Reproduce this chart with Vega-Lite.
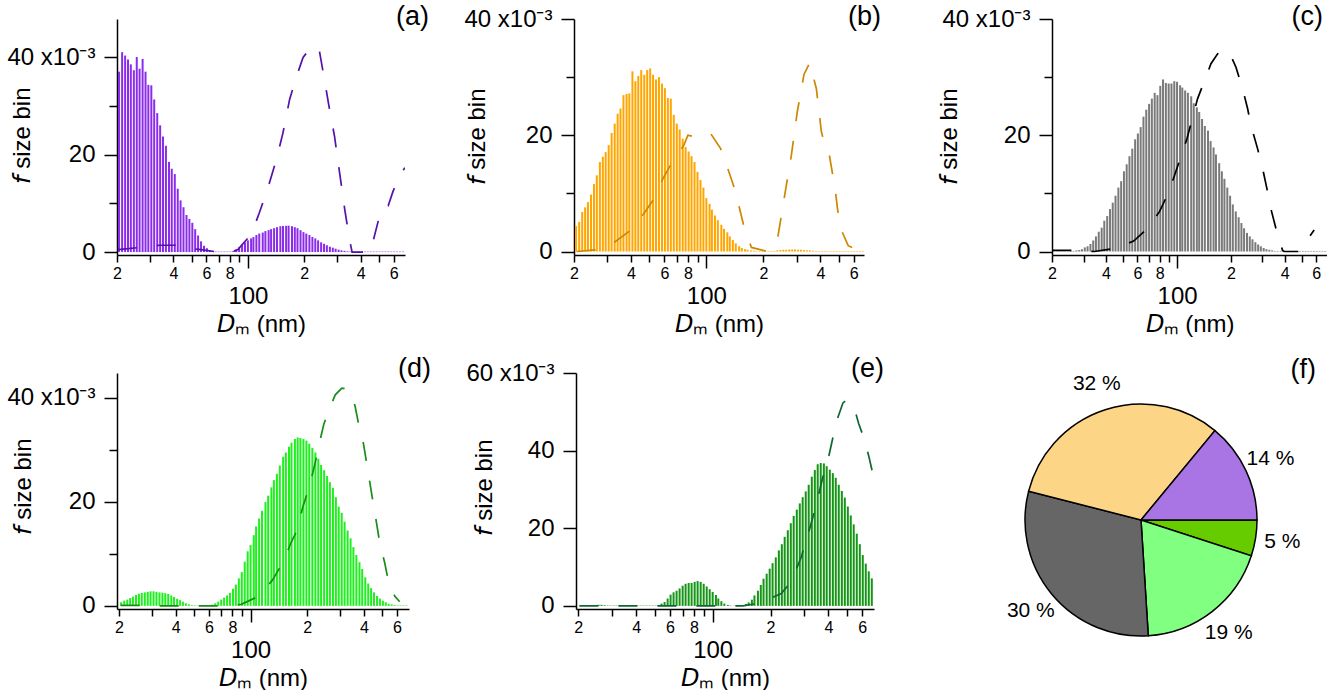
{
  "$schema": "https://vega.github.io/schema/vega-lite/v6.json",
  "padding": {"left": 6, "top": 3, "right": 0, "bottom": 0},
  "background": "white",
  "config": {
    "view": {"stroke": null},
    "font": "Liberation Sans",
    "axis": {"grid": false, "domainColor": "black", "domainWidth": 1.5, "tickColor": "black", "tickWidth": 1.5, "labelColor": "black", "titleColor": "black", "labelFont": "Liberation Sans", "titleFont": "Liberation Sans", "titleFontWeight": "normal", "labelOverlap": false, "labelFlush": false, "labelBound": false},
    "title": {"anchor": "end", "frame": "group", "fontSize": 27, "fontWeight": "normal", "font": "Liberation Sans", "baseline": "alphabetic", "offset": 0, "color": "black"}
  },
  "datasets": {
    "a_bins": [{"D":20.5,"f":37.0},{"D":21.3,"f":41.0},{"D":22.1,"f":40.3},{"D":22.9,"f":39.5},{"D":23.7,"f":38.5},{"D":24.6,"f":37.3},{"D":25.5,"f":40.0},{"D":26.4,"f":37.6},{"D":27.4,"f":39.6},{"D":28.4,"f":37.0},{"D":29.4,"f":34.3},{"D":30.5,"f":34.2},{"D":31.6,"f":31.3},{"D":32.8,"f":28.5},{"D":34.0,"f":26.0},{"D":35.2,"f":23.7},{"D":36.5,"f":21.8},{"D":37.9,"f":18.5},{"D":39.2,"f":17.1},{"D":40.7,"f":16.0},{"D":42.2,"f":13.0},{"D":43.7,"f":10.6},{"D":45.3,"f":9.2},{"D":47.0,"f":7.6},{"D":48.7,"f":6.8},{"D":50.5,"f":6.0},{"D":52.3,"f":4.7},{"D":54.2,"f":3.4},{"D":56.2,"f":2.2},{"D":58.3,"f":1.3},{"D":60.4,"f":0.8},{"D":62.6,"f":0.4},{"D":64.9,"f":0.2},{"D":67.3,"f":0.1},{"D":69.8,"f":0.1},{"D":72.3,"f":0.1},{"D":75.0,"f":0.1},{"D":77.7,"f":0.1},{"D":80.6,"f":0.1},{"D":83.5,"f":0.2},{"D":86.6,"f":0.5},{"D":89.8,"f":1.0},{"D":93.1,"f":1.6},{"D":96.5,"f":2.0},{"D":100,"f":2.4},{"D":104,"f":2.8},{"D":107,"f":3.1},{"D":111,"f":3.5},{"D":115,"f":3.8},{"D":120,"f":4.0},{"D":124,"f":4.3},{"D":129,"f":4.5},{"D":133,"f":4.7},{"D":138,"f":4.9},{"D":143,"f":5.1},{"D":149,"f":5.3},{"D":154,"f":5.35},{"D":160,"f":5.4},{"D":165,"f":5.4},{"D":172,"f":5.3},{"D":178,"f":5.1},{"D":184,"f":4.9},{"D":191,"f":4.5},{"D":198,"f":4.1},{"D":205,"f":3.8},{"D":213,"f":3.5},{"D":221,"f":3.1},{"D":229,"f":2.8},{"D":237,"f":2.4},{"D":246,"f":2.0},{"D":255,"f":1.7},{"D":264,"f":1.4},{"D":274,"f":1.1},{"D":284,"f":0.9},{"D":294,"f":0.7},{"D":305,"f":0.5},{"D":316,"f":0.35},{"D":328,"f":0.25},{"D":340,"f":0.15},{"D":352,"f":0.1},{"D":365,"f":0.1},{"D":379,"f":0.1},{"D":392,"f":0.1},{"D":407,"f":0.1},{"D":422,"f":0.1},{"D":437,"f":0.1},{"D":453,"f":0.1},{"D":470,"f":0.1},{"D":487,"f":0.1},{"D":505,"f":0.1},{"D":523,"f":0.1},{"D":542,"f":0.1},{"D":562,"f":0.1},{"D":583,"f":0.1},{"D":604,"f":0.1},{"D":626,"f":0.1},{"D":649,"f":0.1},{"D":673,"f":0.1}],
    "a_fit": [{"D":20.25,"f":0.5},{"D":25.8,"f":0.9},{"D":33.7,"f":1.4},{"D":43.1,"f":1.4},{"D":47.8,"f":0.8},{"D":56.2,"f":0.5},{"D":69.1,"f":0},{"D":81.4,"f":0},{"D":88.4,"f":0.5},{"D":104,"f":3.6},{"D":115,"f":8.0},{"D":128,"f":13.2},{"D":142,"f":19.0},{"D":154,"f":24.5},{"D":167,"f":31.3},{"D":181,"f":35.8},{"D":197,"f":39.9},{"D":213,"f":41.6},{"D":232,"f":42.3},{"D":241,"f":41.2},{"D":257,"f":35.1},{"D":273,"f":29.2},{"D":290,"f":23.8},{"D":309,"f":16.2},{"D":329,"f":8.7},{"D":349,"f":2.5},{"D":360,"f":0},{"D":447,"f":0},{"D":466,"f":2.2},{"D":496,"f":6.3},{"D":516,"f":9.0},{"D":561,"f":9.5},{"D":596,"f":12.5},{"D":647,"f":15.5},{"D":688,"f":17.3}],
    "b_bins": [{"D":20.5,"f":4.4},{"D":21.3,"f":5.1},{"D":22.1,"f":6.8},{"D":22.9,"f":7.6},{"D":23.7,"f":8.5},{"D":24.6,"f":9.8},{"D":25.5,"f":11.6},{"D":26.4,"f":13.1},{"D":27.4,"f":15.4},{"D":28.4,"f":16.3},{"D":29.4,"f":17.1},{"D":30.5,"f":18.3},{"D":31.6,"f":20.4},{"D":32.8,"f":22.0},{"D":34.0,"f":23.7},{"D":35.2,"f":24.6},{"D":36.5,"f":26.9},{"D":37.9,"f":27.1},{"D":39.2,"f":27.2},{"D":40.7,"f":31.0},{"D":42.2,"f":29.3},{"D":43.7,"f":30.2},{"D":45.3,"f":31.2},{"D":47.0,"f":30.4},{"D":48.7,"f":31.2},{"D":50.5,"f":31.5},{"D":52.3,"f":30.4},{"D":54.2,"f":29.6},{"D":56.2,"f":30.0},{"D":58.3,"f":28.9},{"D":60.4,"f":28.1},{"D":62.6,"f":26.4},{"D":64.9,"f":26.3},{"D":67.3,"f":23.5},{"D":69.8,"f":22.0},{"D":72.3,"f":21.0},{"D":75.0,"f":19.4},{"D":77.7,"f":18.0},{"D":80.6,"f":17.2},{"D":83.5,"f":16.4},{"D":86.6,"f":15.4},{"D":89.8,"f":13.7},{"D":93.1,"f":12.3},{"D":96.5,"f":11.0},{"D":100,"f":9.2},{"D":104,"f":8.2},{"D":107,"f":7.2},{"D":111,"f":6.2},{"D":115,"f":5.4},{"D":120,"f":4.6},{"D":124,"f":3.9},{"D":129,"f":3.3},{"D":133,"f":2.6},{"D":138,"f":2.0},{"D":143,"f":1.4},{"D":149,"f":0.9},{"D":154,"f":0.6},{"D":160,"f":0.4},{"D":165,"f":0.3},{"D":172,"f":0.2},{"D":178,"f":0.15},{"D":184,"f":0.1},{"D":191,"f":0.1},{"D":198,"f":0.1},{"D":205,"f":0.1},{"D":213,"f":0.1},{"D":221,"f":0.1},{"D":229,"f":0.1},{"D":237,"f":0.2},{"D":246,"f":0.25},{"D":255,"f":0.3},{"D":264,"f":0.3},{"D":274,"f":0.35},{"D":284,"f":0.35},{"D":294,"f":0.35},{"D":305,"f":0.3},{"D":316,"f":0.3},{"D":328,"f":0.25},{"D":340,"f":0.2},{"D":352,"f":0.2},{"D":365,"f":0.15},{"D":379,"f":0.1},{"D":392,"f":0.1},{"D":407,"f":0.1},{"D":422,"f":0.1},{"D":437,"f":0.1},{"D":453,"f":0.1},{"D":470,"f":0.1},{"D":487,"f":0.1},{"D":505,"f":0.1},{"D":523,"f":0.1},{"D":542,"f":0.1},{"D":562,"f":0.1},{"D":583,"f":0.1},{"D":604,"f":0.1},{"D":626,"f":0.1},{"D":649,"f":0.1},{"D":673,"f":0.1}],
    "b_fit": [{"D":20.66,"f":0},{"D":26.1,"f":0.3},{"D":32.7,"f":1.6},{"D":40.0,"f":3.7},{"D":46.7,"f":6.5},{"D":53.2,"f":9.2},{"D":58.9,"f":12.5},{"D":66.0,"f":15.4},{"D":76.1,"f":18.3},{"D":79.9,"f":20.0},{"D":87.4,"f":19.7},{"D":105.3,"f":20.3},{"D":119,"f":17.7},{"D":130,"f":14.2},{"D":141,"f":10.8},{"D":150,"f":7.3},{"D":159,"f":3.9},{"D":173,"f":0.7},{"D":212,"f":0},{"D":239,"f":2.7},{"D":249,"f":6.2},{"D":259,"f":9.6},{"D":281,"f":16.5},{"D":302,"f":24.0},{"D":328,"f":30.5},{"D":352,"f":32.5},{"D":381,"f":28.0},{"D":405,"f":20.6},{"D":414,"f":19.4},{"D":440,"f":17.7},{"D":462,"f":13.7},{"D":481,"f":10.2},{"D":493,"f":7.3},{"D":513,"f":3.9},{"D":561,"f":1.0},{"D":660,"f":0}],
    "c_bins": [{"D":20.5,"f":0.05},{"D":21.3,"f":0.05},{"D":22.1,"f":0.05},{"D":22.9,"f":0.05},{"D":23.7,"f":0.05},{"D":24.6,"f":0.05},{"D":25.5,"f":0.1},{"D":26.4,"f":0.1},{"D":27.4,"f":0.2},{"D":28.4,"f":0.25},{"D":29.4,"f":0.4},{"D":30.5,"f":0.7},{"D":31.6,"f":0.9},{"D":32.8,"f":1.3},{"D":34.0,"f":1.9},{"D":35.2,"f":2.6},{"D":36.5,"f":3.4},{"D":37.9,"f":4.1},{"D":39.2,"f":5.3},{"D":40.7,"f":6.1},{"D":42.2,"f":7.3},{"D":43.7,"f":8.4},{"D":45.3,"f":9.6},{"D":47.0,"f":11.0},{"D":48.7,"f":12.1},{"D":50.5,"f":13.8},{"D":52.3,"f":15.0},{"D":54.2,"f":16.4},{"D":56.2,"f":17.7},{"D":58.3,"f":19.3},{"D":60.4,"f":20.3},{"D":62.6,"f":21.4},{"D":64.9,"f":23.2},{"D":67.3,"f":24.4},{"D":69.8,"f":25.4},{"D":72.3,"f":26.3},{"D":75.0,"f":27.3},{"D":77.7,"f":26.9},{"D":80.6,"f":28.5},{"D":83.5,"f":29.6},{"D":86.6,"f":29.0},{"D":89.8,"f":28.9},{"D":93.1,"f":28.9},{"D":96.5,"f":29.3},{"D":100,"f":29.2},{"D":104,"f":28.6},{"D":107,"f":28.2},{"D":111,"f":27.7},{"D":115,"f":27.3},{"D":120,"f":26.7},{"D":124,"f":25.5},{"D":129,"f":24.8},{"D":133,"f":24.0},{"D":138,"f":22.8},{"D":143,"f":21.6},{"D":149,"f":20.8},{"D":154,"f":19.0},{"D":160,"f":17.9},{"D":165,"f":16.7},{"D":172,"f":15.2},{"D":178,"f":13.8},{"D":184,"f":12.5},{"D":191,"f":11.0},{"D":198,"f":9.6},{"D":205,"f":8.1},{"D":213,"f":6.9},{"D":221,"f":5.9},{"D":229,"f":4.9},{"D":237,"f":4.0},{"D":246,"f":3.2},{"D":255,"f":2.6},{"D":264,"f":2.1},{"D":274,"f":1.6},{"D":284,"f":1.2},{"D":294,"f":0.9},{"D":305,"f":0.6},{"D":316,"f":0.4},{"D":328,"f":0.3},{"D":340,"f":0.2},{"D":352,"f":0.1},{"D":365,"f":0.1},{"D":379,"f":0.1},{"D":392,"f":0.1},{"D":407,"f":0.1},{"D":422,"f":0.1},{"D":437,"f":0.1},{"D":453,"f":0.1},{"D":470,"f":0.1},{"D":487,"f":0.1},{"D":505,"f":0.1},{"D":523,"f":0.1},{"D":542,"f":0.1},{"D":562,"f":0.1},{"D":583,"f":0.1},{"D":604,"f":0.1},{"D":626,"f":0.1},{"D":649,"f":0.1},{"D":673,"f":0.1}],
    "c_fit": [{"D":20.1,"f":0.2},{"D":26.4,"f":0.2},{"D":34.5,"f":0},{"D":44.6,"f":0.5},{"D":57.2,"f":1.8},{"D":68.5,"f":4.0},{"D":79.9,"f":6.9},{"D":87.0,"f":9.3},{"D":95.6,"f":12.6},{"D":104.2,"f":16.0},{"D":113.6,"f":19.4},{"D":122.2,"f":23.1},{"D":130.3,"f":26.3},{"D":145.0,"f":30.0},{"D":154.7,"f":32.3},{"D":168.6,"f":34.0},{"D":183.6,"f":34.7},{"D":195.8,"f":34.3},{"D":213.5,"f":31.7},{"D":232.6,"f":28.0},{"D":247.9,"f":24.6},{"D":258.8,"f":21.7},{"D":281.9,"f":17.7},{"D":300.7,"f":14.3},{"D":320.6,"f":10.3},{"D":337.5,"f":6.9},{"D":356.8,"f":4.0},{"D":388.9,"f":0.2},{"D":397.4,"f":0},{"D":481.6,"f":0},{"D":584.2,"f":3.7}],
    "d_bins": [{"D":20.5,"f":0.7},{"D":21.3,"f":1.0},{"D":22.1,"f":1.2},{"D":22.9,"f":1.5},{"D":23.7,"f":1.8},{"D":24.6,"f":2.1},{"D":25.5,"f":2.35},{"D":26.4,"f":2.5},{"D":27.4,"f":2.6},{"D":28.4,"f":2.7},{"D":29.4,"f":2.8},{"D":30.5,"f":2.8},{"D":31.6,"f":2.7},{"D":32.8,"f":2.6},{"D":34.0,"f":2.55},{"D":35.2,"f":2.45},{"D":36.5,"f":2.3},{"D":37.9,"f":2.0},{"D":39.2,"f":1.7},{"D":40.7,"f":1.35},{"D":42.2,"f":1.1},{"D":43.7,"f":0.8},{"D":45.3,"f":0.5},{"D":47.0,"f":0.3},{"D":48.7,"f":0.15},{"D":50.5,"f":0.1},{"D":52.3,"f":0.05},{"D":54.2,"f":0.05},{"D":56.2,"f":0.05},{"D":58.3,"f":0.05},{"D":60.4,"f":0.1},{"D":62.6,"f":0.25},{"D":64.9,"f":0.5},{"D":67.3,"f":0.8},{"D":69.8,"f":1.2},{"D":72.3,"f":1.6},{"D":75.0,"f":2.0},{"D":77.7,"f":2.5},{"D":80.6,"f":3.3},{"D":83.5,"f":4.1},{"D":86.6,"f":5.3},{"D":89.8,"f":6.5},{"D":93.1,"f":8.5},{"D":96.5,"f":10.5},{"D":100,"f":11.7},{"D":104,"f":13.6},{"D":107,"f":15.3},{"D":111,"f":16.8},{"D":115,"f":18.3},{"D":120,"f":20.0},{"D":124,"f":21.2},{"D":129,"f":22.8},{"D":133,"f":24.2},{"D":138,"f":25.4},{"D":143,"f":27.0},{"D":149,"f":28.7},{"D":154,"f":29.5},{"D":160,"f":30.6},{"D":165,"f":31.4},{"D":172,"f":32.1},{"D":178,"f":32.4},{"D":184,"f":32.3},{"D":191,"f":32.1},{"D":198,"f":31.8},{"D":205,"f":31.2},{"D":213,"f":30.4},{"D":221,"f":29.5},{"D":229,"f":28.3},{"D":237,"f":27.1},{"D":246,"f":26.1},{"D":255,"f":25.0},{"D":264,"f":23.8},{"D":274,"f":22.7},{"D":284,"f":20.9},{"D":294,"f":19.1},{"D":305,"f":17.9},{"D":316,"f":16.2},{"D":328,"f":14.5},{"D":340,"f":13.0},{"D":352,"f":11.3},{"D":365,"f":9.8},{"D":379,"f":8.4},{"D":392,"f":7.1},{"D":407,"f":5.5},{"D":422,"f":4.3},{"D":437,"f":3.4},{"D":453,"f":2.6},{"D":470,"f":1.9},{"D":487,"f":1.4},{"D":505,"f":1.0},{"D":523,"f":0.7},{"D":542,"f":0.4},{"D":562,"f":0.3},{"D":583,"f":0.15},{"D":604,"f":0.1},{"D":626,"f":0.1},{"D":649,"f":0.1},{"D":673,"f":0.1}],
    "d_fit": [{"D":20.4,"f":0.1},{"D":25.5,"f":0.1},{"D":33.1,"f":0},{"D":42.2,"f":0},{"D":54.9,"f":0},{"D":68.6,"f":0},{"D":89.2,"f":0.3},{"D":111.3,"f":1.9},{"D":130.9,"f":5.0},{"D":147.7,"f":8.2},{"D":163.4,"f":12.0},{"D":175.1,"f":14.3},{"D":189.8,"f":19.1},{"D":205.7,"f":23.0},{"D":221.3,"f":27.8},{"D":230.4,"f":30.8},{"D":244.8,"f":34.9},{"D":265.5,"f":38.4},{"D":281.9,"f":40.6},{"D":305.6,"f":41.9},{"D":331.4,"f":41.7},{"D":347.8,"f":40.0},{"D":359.3,"f":38.4},{"D":374.1,"f":35.2},{"D":397.6,"f":31.3},{"D":414.0,"f":27.5},{"D":430.9,"f":23.6},{"D":448.8,"f":19.7},{"D":467.2,"f":15.9},{"D":486.5,"f":12.0},{"D":517,"f":8.2},{"D":538.3,"f":5.0},{"D":583.5,"f":1.9},{"D":620,"f":0.8}],
    "e_bins": [{"D":20.5,"f":0.1},{"D":21.3,"f":0.1},{"D":22.1,"f":0.1},{"D":22.9,"f":0.1},{"D":23.7,"f":0.15},{"D":24.6,"f":0.2},{"D":25.5,"f":0.3},{"D":26.4,"f":0.3},{"D":27.4,"f":0.2},{"D":28.4,"f":0.1},{"D":29.4,"f":0.1},{"D":30.5,"f":0.1},{"D":31.6,"f":0.1},{"D":32.8,"f":0.1},{"D":34.0,"f":0.1},{"D":35.2,"f":0.1},{"D":36.5,"f":0.1},{"D":37.9,"f":0.1},{"D":39.2,"f":0.1},{"D":40.7,"f":0.1},{"D":42.2,"f":0.1},{"D":43.7,"f":0.1},{"D":45.3,"f":0.1},{"D":47.0,"f":0.1},{"D":48.7,"f":0.1},{"D":50.5,"f":0.1},{"D":52.3,"f":0.1},{"D":54.2,"f":0.6},{"D":56.2,"f":1.0},{"D":58.3,"f":1.9},{"D":60.4,"f":2.9},{"D":62.6,"f":3.5},{"D":64.9,"f":3.9},{"D":67.3,"f":4.5},{"D":69.8,"f":5.2},{"D":72.3,"f":5.7},{"D":75.0,"f":5.9},{"D":77.7,"f":5.9},{"D":80.6,"f":6.2},{"D":83.5,"f":6.4},{"D":86.6,"f":6.2},{"D":89.8,"f":5.7},{"D":93.1,"f":5.0},{"D":96.5,"f":4.3},{"D":100,"f":3.6},{"D":104,"f":2.8},{"D":107,"f":1.9},{"D":111,"f":1.2},{"D":115,"f":0.6},{"D":120,"f":0.25},{"D":124,"f":0.1},{"D":129,"f":0.05},{"D":133,"f":0.05},{"D":138,"f":0.05},{"D":143,"f":0.2},{"D":149,"f":0.5},{"D":154,"f":0.9},{"D":160,"f":1.6},{"D":165,"f":2.7},{"D":172,"f":3.9},{"D":178,"f":5.4},{"D":184,"f":7.0},{"D":191,"f":8.3},{"D":198,"f":9.6},{"D":205,"f":11.0},{"D":213,"f":12.5},{"D":221,"f":14.3},{"D":229,"f":15.9},{"D":237,"f":17.8},{"D":246,"f":19.5},{"D":255,"f":21.3},{"D":264,"f":23.2},{"D":274,"f":24.8},{"D":284,"f":26.4},{"D":294,"f":28.0},{"D":305,"f":29.5},{"D":316,"f":31.2},{"D":328,"f":33.3},{"D":340,"f":35.0},{"D":352,"f":36.5},{"D":365,"f":36.8},{"D":379,"f":36.7},{"D":392,"f":36.0},{"D":407,"f":35.1},{"D":422,"f":34.2},{"D":437,"f":33.0},{"D":453,"f":31.2},{"D":470,"f":29.6},{"D":487,"f":27.9},{"D":505,"f":25.6},{"D":523,"f":23.3},{"D":542,"f":21.0},{"D":562,"f":18.6},{"D":583,"f":15.9},{"D":604,"f":13.1},{"D":626,"f":10.9},{"D":649,"f":8.9},{"D":673,"f":7.1}],
    "e_fit": [{"D":20.25,"f":0},{"D":42.4,"f":0},{"D":68.5,"f":0},{"D":110.7,"f":0},{"D":143.6,"f":0},{"D":178.9,"f":0.8},{"D":227.4,"f":3.2},{"D":256.4,"f":6.2},{"D":289.1,"f":12.6},{"D":310.6,"f":17.7},{"D":332.4,"f":22.9},{"D":353.0,"f":28.0},{"D":374.8,"f":33.2},{"D":401.0,"f":38.3},{"D":422.4,"f":43.4},{"D":448.6,"f":48.6},{"D":476.3,"f":52.3},{"D":496,"f":53.0},{"D":522.5,"f":52.6},{"D":548.3,"f":50.6},{"D":574.9,"f":47.0},{"D":605.6,"f":43.9},{"D":648.2,"f":38.7},{"D":683,"f":33.8}],
    "pie": [
      {"sample": "e", "pct": 5, "ord": 1, "label": "5 %"},
      {"sample": "d", "pct": 19, "ord": 2, "label": "19 %"},
      {"sample": "c", "pct": 30, "ord": 3, "label": "30 %"},
      {"sample": "b", "pct": 32, "ord": 4, "label": "32 %"},
      {"sample": "a", "pct": 14, "ord": 5, "label": "14 %"}
    ]
  },
  "vconcat": [
    {
      "bounds": "flush",
      "spacing": 169,
      "hconcat": [
        {
          "width": 288, "height": 236,
          "title": {"text": "(a)", "dx": 24, "dy": 16},
          "encoding": {"x": {"field": "D", "type": "quantitative", "scale": {"type": "log", "domain": [20, 690], "nice": false},
            "axis": {"title": "𝘋ₘ (nm)", "titleFontSize": 24, "titleY": 76, "titleBaseline": "alphabetic", "values": [20,30,40,50,60,70,80,90,100,200,300,400,500,600], "labelExpr": "datum.value == 100 ? '100' : (indexof([20,40,60,80,200,400,600], datum.value) >= 0 ? substring(toString(datum.value), 0, 1) : '')", "labelFontSize": {"condition": {"test": "datum.value == 100", "value": 24}, "value": 16}, "tickSize": {"condition": {"test": "datum.value == 100", "value": 13}, "value": 7}, "labelPadding": {"condition": {"test": "datum.value == 100", "value": 16}, "value": 3}}}},
          "layer": [
            {"data": {"name": "a_bins"}, "mark": {"type": "rule", "strokeWidth": 2, "color": "#8C2CEB", "clip": true},
             "encoding": {"y": {"field": "f", "type": "quantitative", "scale": {"domain": [-0.6, 47.8], "nice": false, "zero": false},
               "axis": {"values": [0,10,20,30,40], "labelExpr": "datum.value == 40 ? '40 x10⁻³' : (datum.value % 20 == 0 ? datum.label : '')", "tickSize": {"condition": {"test": "datum.value % 20 == 0", "value": 13}, "value": 8}, "labelPadding": 9, "labelFontSize": 24, "title": "𝘧 size bin", "titleFontSize": 24, "titleX": -95, "titleY": 116, "titleAngle": -90, "titleAlign": "center", "titleBaseline": "middle"}},
               "y2": {"datum": 0}}},
            {"data": {"name": "a_fit"}, "mark": {"type": "line", "strokeDash": [19, 20], "strokeWidth": 1.7, "color": "#5511AA", "clip": true},
             "encoding": {"y": {"field": "f", "type": "quantitative"}}}
          ]
        },
        {
          "bounds": "flush",
          "spacing": 188,
          "hconcat": [
            {
              "width": 290, "height": 236,
              "title": {"text": "(b)", "dx": 17, "dy": 28},
              "encoding": {"x": {"field": "D", "type": "quantitative", "scale": {"type": "log", "domain": [20, 680], "nice": false},
                "axis": {"title": "𝘋ₘ (nm)", "titleFontSize": 24, "titleY": 76, "titleBaseline": "alphabetic", "values": [20,30,40,50,60,70,80,90,100,200,300,400,500,600], "labelExpr": "datum.value == 100 ? '100' : (indexof([20,40,60,80,200,400,600], datum.value) >= 0 ? substring(toString(datum.value), 0, 1) : '')", "labelFontSize": {"condition": {"test": "datum.value == 100", "value": 24}, "value": 16}, "tickSize": {"condition": {"test": "datum.value == 100", "value": 13}, "value": 7}, "labelPadding": {"condition": {"test": "datum.value == 100", "value": 16}, "value": 3}}}},
              "layer": [
                {"data": {"name": "b_bins"}, "mark": {"type": "rule", "strokeWidth": 2, "color": "#FFA500", "clip": true},
                 "encoding": {"y": {"field": "f", "type": "quantitative", "scale": {"domain": [-0.6, 40], "nice": false, "zero": false},
                   "axis": {"values": [0,10,20,30,40], "labelExpr": "datum.value == 40 ? '40 x10⁻³' : (datum.value % 20 == 0 ? datum.label : '')", "tickSize": {"condition": {"test": "datum.value % 20 == 0", "value": 13}, "value": 8}, "labelPadding": 9, "labelFontSize": 24, "title": "𝘧 size bin", "titleFontSize": 24, "titleX": -97, "titleY": 117, "titleAngle": -90, "titleAlign": "center", "titleBaseline": "middle"}},
                   "y2": {"datum": 0}}},
                {"data": {"name": "b_fit"}, "mark": {"type": "line", "strokeDash": [19, 20], "strokeWidth": 1.7, "color": "#CC8800", "clip": true},
                 "encoding": {"y": {"field": "f", "type": "quantitative"}}}
              ]
            },
            {
              "width": 275, "height": 236,
              "title": {"text": "(c)", "dx": -4, "dy": 28},
              "encoding": {"x": {"field": "D", "type": "quantitative", "scale": {"type": "log", "domain": [20, 689], "nice": false},
                "axis": {"title": "𝘋ₘ (nm)", "titleFontSize": 24, "titleY": 76, "titleBaseline": "alphabetic", "values": [20,30,40,50,60,70,80,90,100,200,300,400,500,600], "labelExpr": "datum.value == 100 ? '100' : (indexof([20,40,60,80,200,400,600], datum.value) >= 0 ? substring(toString(datum.value), 0, 1) : '')", "labelFontSize": {"condition": {"test": "datum.value == 100", "value": 24}, "value": 16}, "tickSize": {"condition": {"test": "datum.value == 100", "value": 13}, "value": 7}, "labelPadding": {"condition": {"test": "datum.value == 100", "value": 16}, "value": 3}}}},
              "layer": [
                {"data": {"name": "c_bins"}, "mark": {"type": "rule", "strokeWidth": 2, "color": "#7A7A7A", "clip": true},
                 "encoding": {"y": {"field": "f", "type": "quantitative", "scale": {"domain": [-0.6, 40], "nice": false, "zero": false},
                   "axis": {"values": [0,10,20,30,40], "labelExpr": "datum.value == 40 ? '40 x10⁻³' : (datum.value % 20 == 0 ? datum.label : '')", "tickSize": {"condition": {"test": "datum.value % 20 == 0", "value": 13}, "value": 8}, "labelPadding": 9, "labelFontSize": 24, "title": "𝘧 size bin", "titleFontSize": 24, "titleX": -103, "titleY": 117, "titleAngle": -90, "titleAlign": "center", "titleBaseline": "middle"}},
                   "y2": {"datum": 0}}},
                {"data": {"name": "c_fit"}, "mark": {"type": "line", "strokeDash": [19, 20], "strokeWidth": 1.7, "color": "#000000", "clip": true},
                 "encoding": {"y": {"field": "f", "type": "quantitative"}}}
              ]
            }
          ]
        }
      ]
    },
    {
      "bounds": "flush",
      "spacing": 167,
      "hconcat": [
        {
          "width": 292, "height": 236,
          "title": {"text": "(d)", "dx": 22, "dy": 14},
          "encoding": {"x": {"field": "D", "type": "quantitative", "scale": {"type": "log", "domain": [19.5, 695], "nice": false},
            "axis": {"title": "𝘋ₘ (nm)", "titleFontSize": 24, "titleY": 76, "titleBaseline": "alphabetic", "values": [20,30,40,50,60,70,80,90,100,200,300,400,500,600], "labelExpr": "datum.value == 100 ? '100' : (indexof([20,40,60,80,200,400,600], datum.value) >= 0 ? substring(toString(datum.value), 0, 1) : '')", "labelFontSize": {"condition": {"test": "datum.value == 100", "value": 24}, "value": 16}, "tickSize": {"condition": {"test": "datum.value == 100", "value": 13}, "value": 7}, "labelPadding": {"condition": {"test": "datum.value == 100", "value": 16}, "value": 3}}}},
          "layer": [
            {"data": {"name": "d_bins"}, "mark": {"type": "rule", "strokeWidth": 2, "color": "#1EF01E", "clip": true},
             "encoding": {"y": {"field": "f", "type": "quantitative", "scale": {"domain": [-0.6, 44.8], "nice": false, "zero": false},
               "axis": {"values": [0,10,20,30,40], "labelExpr": "datum.value == 40 ? '40 x10⁻³' : (datum.value % 20 == 0 ? datum.label : '')", "tickSize": {"condition": {"test": "datum.value % 20 == 0", "value": 13}, "value": 8}, "labelPadding": 9, "labelFontSize": 24, "title": "𝘧 size bin", "titleFontSize": 24, "titleX": -94, "titleY": 113, "titleAngle": -90, "titleAlign": "center", "titleBaseline": "middle"}},
               "y2": {"datum": 0}}},
            {"data": {"name": "d_fit"}, "mark": {"type": "line", "strokeDash": [19, 20], "strokeWidth": 1.7, "color": "#1A8C1A", "clip": true},
             "encoding": {"y": {"field": "f", "type": "quantitative"}}}
          ]
        },
        {
          "bounds": "flush",
          "spacing": 147,
          "hconcat": [
            {
              "width": 298, "height": 236,
              "title": {"text": "(e)", "dx": 10, "dy": 26},
              "encoding": {"x": {"field": "D", "type": "quantitative", "scale": {"type": "log", "domain": [19.45, 691], "nice": false},
                "axis": {"title": "𝘋ₘ (nm)", "titleFontSize": 24, "titleY": 76, "titleBaseline": "alphabetic", "values": [20,30,40,50,60,70,80,90,100,200,300,400,500,600], "labelExpr": "datum.value == 100 ? '100' : (indexof([20,40,60,80,200,400,600], datum.value) >= 0 ? substring(toString(datum.value), 0, 1) : '')", "labelFontSize": {"condition": {"test": "datum.value == 100", "value": 24}, "value": 16}, "tickSize": {"condition": {"test": "datum.value == 100", "value": 13}, "value": 7}, "labelPadding": {"condition": {"test": "datum.value == 100", "value": 16}, "value": 3}}}},
              "layer": [
                {"data": {"name": "e_bins"}, "mark": {"type": "rule", "strokeWidth": 2, "color": "#159515", "clip": true},
                 "encoding": {"y": {"field": "f", "type": "quantitative", "scale": {"domain": [-0.8, 60], "nice": false, "zero": false},
                   "axis": {"values": [0,10,20,30,40,50,60], "labelExpr": "datum.value == 60 ? '60 x10⁻³' : (datum.value % 20 == 0 ? datum.label : '')", "tickSize": {"condition": {"test": "datum.value % 20 == 0", "value": 13}, "value": 8}, "labelPadding": 9, "labelFontSize": 24, "title": "𝘧 size bin", "titleFontSize": 24, "titleX": -92, "titleY": 114, "titleAngle": -90, "titleAlign": "center", "titleBaseline": "middle"}},
                   "y2": {"datum": 0}}},
                {"data": {"name": "e_fit"}, "mark": {"type": "line", "strokeDash": [19, 20], "strokeWidth": 1.7, "color": "#116633", "clip": true},
                 "encoding": {"y": {"field": "f", "type": "quantitative"}}}
              ]
            },
            {
              "width": 240, "height": 294,
              "title": {"text": "(f)", "dx": 55, "dy": 15},
              "data": {"name": "pie"},
              "encoding": {
                "theta": {"field": "pct", "type": "quantitative", "stack": true, "scale": {"range": [1.5708, 7.854]}},
                "order": {"field": "ord", "type": "quantitative"}
              },
              "layer": [
                {"mark": {"type": "arc", "outerRadius": 116, "stroke": "black", "strokeWidth": 1.5},
                 "encoding": {"color": {"field": "sample", "type": "nominal", "legend": null, "scale": {"domain": ["a", "b", "c", "d", "e"], "range": ["#A974E4", "#FDD586", "#666666", "#80FF80", "#66CC00"]}}}},
                {"mark": {"type": "text", "radius": 143, "fontSize": 21, "font": "Liberation Sans", "color": "black"},
                 "encoding": {"text": {"field": "label", "type": "nominal"}}}
              ]
            }
          ]
        }
      ]
    }
  ],
  "spacing": 19,
  "bounds": "full"
}
